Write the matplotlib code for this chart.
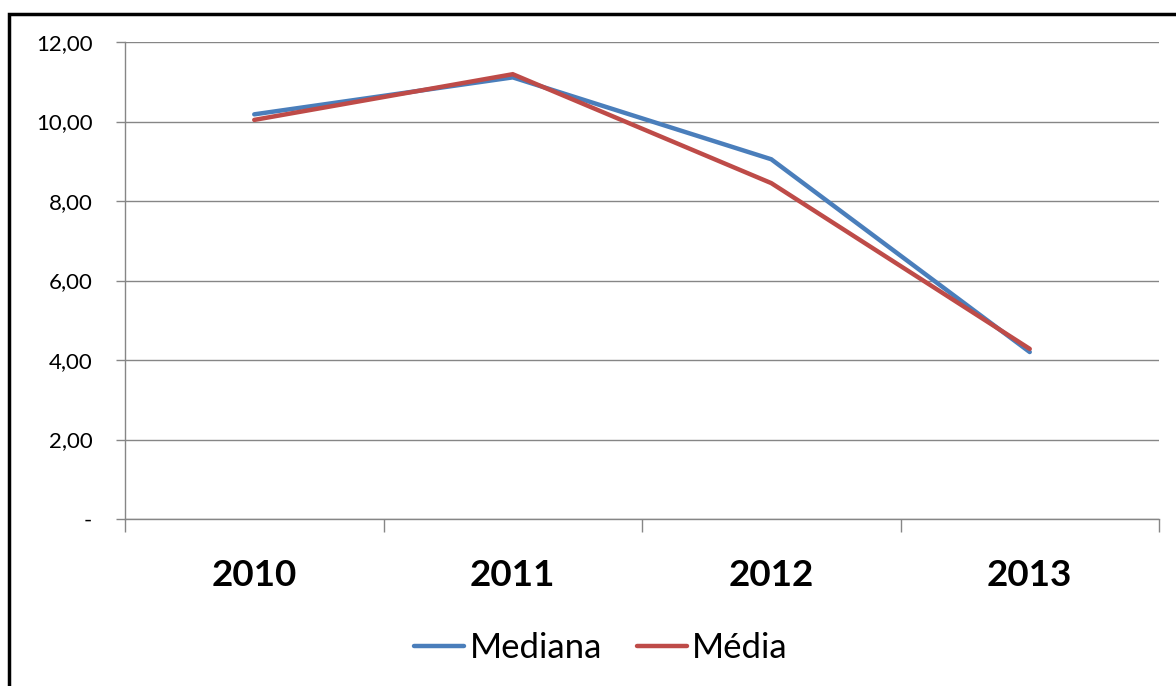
import numpy as np
import matplotlib
matplotlib.use("Agg")
import matplotlib.pyplot as plt
from matplotlib.patches import Rectangle

plt.rcParams['font.family'] = ['Lato', 'DejaVu Sans']

anos = ["2010", "2011", "2012", "2013"]
mediana = [10.18, 11.11, 9.05, 4.20]
media = [10.04, 11.19, 8.45, 4.28]
y_ticks = [0, 2, 4, 6, 8, 10, 12]
y_labels = ["-", "2,00", "4,00", "6,00", "8,00", "10,00", "12,00"]

cor_mediana = "#4A7EBB"
cor_media = "#BE4B48"
cinza = "#868686"

fig = plt.figure(figsize=(11.76, 6.86), dpi=100)
ax = fig.add_axes([125 / 1176, 1 - 519 / 686, (1159 - 125) / 1176, (519 - 42) / 686])

x = np.arange(len(anos))
ax.plot(x, mediana, color=cor_mediana, linewidth=3.2, solid_capstyle="round",
        solid_joinstyle="miter", label="Mediana", zorder=3)
ax.plot(x, media, color=cor_media, linewidth=3.2, solid_capstyle="round",
        solid_joinstyle="miter", label="Média", zorder=4)

ax.set_xlim(-0.5, len(anos) - 0.5)
ax.set_ylim(0, 12)

ax.set_yticks(y_ticks)
ax.set_yticklabels(y_labels, fontsize=16)
ax.yaxis.grid(True, color=cinza, linewidth=1.0)
ax.set_axisbelow(True)
ax.tick_params(axis="y", direction="out", length=6.5, width=1, color=cinza, pad=17)

ax.set_xticks(x)
ax.set_xticklabels(anos, fontsize=26.5, fontweight="bold")
ax.set_xticks(np.arange(-0.5, len(anos)), minor=True)
ax.tick_params(axis="x", which="major", length=0, pad=29)
ax.tick_params(axis="x", which="minor", direction="out", length=9.5, width=1, color=cinza)

for s in ["top", "right"]:
    ax.spines[s].set_visible(False)
for s in ["left", "bottom"]:
    ax.spines[s].set_color(cinza)
    ax.spines[s].set_linewidth(1.0)

fig.legend(loc="center", bbox_to_anchor=(601 / 1176, 1 - 648 / 686), ncol=2, frameon=False,
           fontsize=25, handlelength=1.45, handletextpad=0.15, columnspacing=1.0)

# borda externa
fig.patches.append(Rectangle((9 / 1176, -0.1), 1.2, 1 - 14 / 686 + 0.1,
                             transform=fig.transFigure, fill=False,
                             edgecolor="black", linewidth=2.5))

fig.savefig("out.png", dpi=100)
